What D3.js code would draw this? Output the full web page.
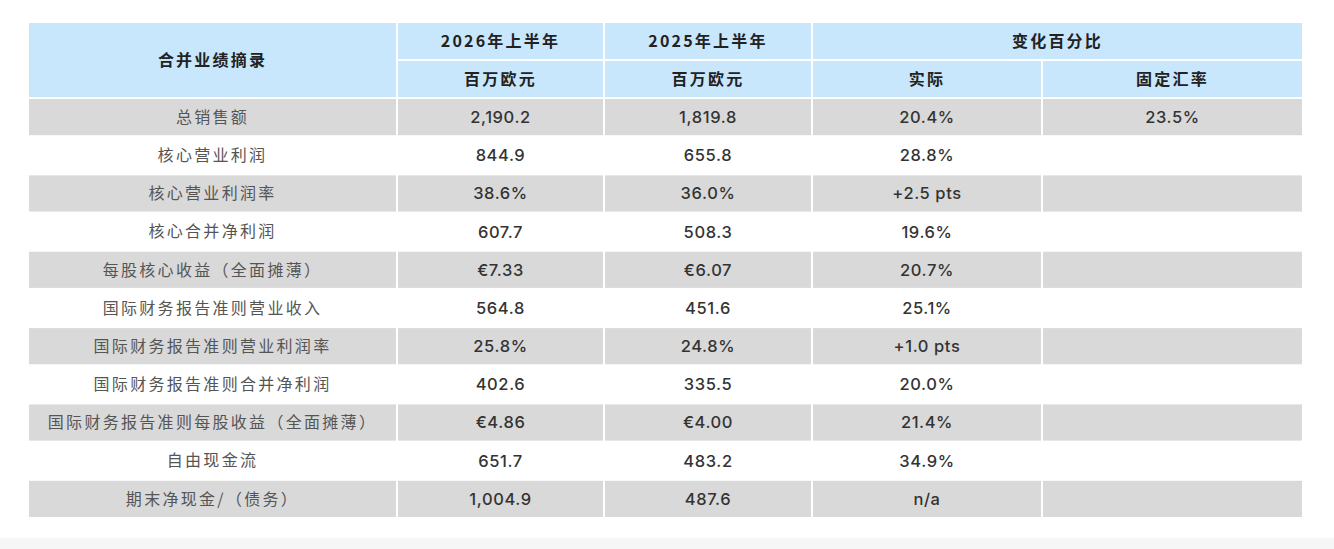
<!DOCTYPE html>
<html>
<head>
<meta charset="utf-8">
<script src="https://cdn.jsdelivr.net/npm/d3@7"></script>
<style>
  body { margin: 0; background: #fff; }
  svg { display: block; }
  text { font-family: "Noto Sans CJK SC", "Noto Sans", sans-serif; }
  .num { font-family: Inter, "Noto Sans CJK SC", sans-serif; }
</style>
</head>
<body>
<svg width="1334" height="549"></svg>
<script>
const svg = d3.select('svg');
const width = +svg.attr('width');
const height = +svg.attr('height');

// table data
const metrics = [
  '总销售额', '核心营业利润', '核心营业利润率', '核心合并净利润',
  '每股核心收益（全面摊薄）', '国际财务报告准则营业收入', '国际财务报告准则营业利润率',
  '国际财务报告准则合并净利润', '国际财务报告准则每股收益（全面摊薄）', '自由现金流', '期末净现金/（债务）'
];
const h1_2026 = ['2,190.2', '844.9', '38.6%', '607.7', '€7.33', '564.8', '25.8%', '402.6', '€4.86', '651.7', '1,004.9'];
const h1_2025 = ['1,819.8', '655.8', '36.0%', '508.3', '€6.07', '451.6', '24.8%', '335.5', '€4.00', '483.2', '487.6'];
const changeActual = ['20.4%', '28.8%', '+2.5 pts', '19.6%', '20.7%', '25.1%', '+1.0 pts', '20.0%', '21.4%', '34.9%', 'n/a'];
const changeConstFx = ['23.5%', '', '', '', '', '', '', '', '', '', ''];

const columns = ['metric', 'y2026', 'y2025', 'actual', 'constFx'];
const headerTop = ['2026年上半年', '2025年上半年', '变化百分比'];
const headerSub = ['百万欧元', '百万欧元', '实际', '固定汇率'];
const headerTitle = '合并业绩摘录';

const rows = metrics.map((m, i) => ({
  metric: m, y2026: h1_2026[i], y2025: h1_2025[i], actual: changeActual[i], constFx: changeConstFx[i]
}));

// layout
const left = 28, right = 1303;
const colEdges = [left, 397, 604, 812, 1042, right];
const headTop = 22, headMid = 60, headBottom = 98, tableBottom = 518;

const xStart = d3.scaleOrdinal().domain(columns).range(colEdges.slice(0, 5));
const xEnd = d3.scaleOrdinal().domain(columns).range(colEdges.slice(1));
const y = d3.scaleBand()
  .domain(d3.range(rows.length))
  .range([headBottom, tableBottom])
  .paddingInner(0);

const gap = 1;
const blue = '#c8e7fc';
const grey = '#d9d9d9';

// bottom page band
svg.append('rect')
  .attr('x', 0).attr('y', 538).attr('width', width).attr('height', height - 538)
  .attr('fill', '#f6f6f6');

// header cells
const headerCells = [
  { x0: xStart('metric'), x1: xEnd('metric'), y0: headTop, y1: headBottom, text: headerTitle },
  { x0: xStart('y2026'), x1: xEnd('y2026'), y0: headTop, y1: headMid, text: headerTop[0] },
  { x0: xStart('y2025'), x1: xEnd('y2025'), y0: headTop, y1: headMid, text: headerTop[1] },
  { x0: xStart('actual'), x1: xEnd('constFx'), y0: headTop, y1: headMid, text: headerTop[2] },
  { x0: xStart('y2026'), x1: xEnd('y2026'), y0: headMid, y1: headBottom, text: headerSub[0] },
  { x0: xStart('y2025'), x1: xEnd('y2025'), y0: headMid, y1: headBottom, text: headerSub[1] },
  { x0: xStart('actual'), x1: xEnd('actual'), y0: headMid, y1: headBottom, text: headerSub[2] },
  { x0: xStart('constFx'), x1: xEnd('constFx'), y0: headMid, y1: headBottom, text: headerSub[3] }
];

const head = svg.append('g');
head.selectAll('rect')
  .data(headerCells)
  .join('rect')
  .attr('x', d => d.x0 + gap)
  .attr('y', d => d.y0 + gap)
  .attr('width', d => d.x1 - d.x0 - 2 * gap)
  .attr('height', d => d.y1 - d.y0 - 2 * gap)
  .attr('fill', blue);

head.selectAll('text')
  .data(headerCells)
  .join('text')
  .attr('x', d => (d.x0 + d.x1) / 2)
  .attr('y', d => (d.y0 + d.y1) / 2)
  .attr('dy', '0.36em')
  .attr('text-anchor', 'middle')
  .attr('font-size', 16)
  .attr('letter-spacing', '2.2px')
  .attr('font-weight', 'bold')
  .attr('fill', '#222')
  .text(d => d.text);

// body rows
const body = svg.append('g');
const rowG = body.selectAll('g')
  .data(rows)
  .join('g')
  .attr('transform', (d, i) => `translate(0, ${y(i)})`);

const cells = rowG.selectAll('g')
  .data((d, i) => columns.map(c => ({ col: c, value: d[c], row: i })))
  .join('g');

cells.append('rect')
  .attr('x', d => xStart(d.col) + gap)
  .attr('y', gap)
  .attr('width', d => xEnd(d.col) - xStart(d.col) - 2 * gap)
  .attr('height', y.bandwidth() - 2 * gap)
  .attr('fill', d => d.row % 2 === 0 ? grey : '#fff');

cells.append('text')
  .attr('class', d => d.col === 'metric' ? 'label' : 'num')
  .attr('x', d => (xStart(d.col) + xEnd(d.col)) / 2)
  .attr('y', y.bandwidth() / 2)
  .attr('dy', '0.36em')
  .attr('text-anchor', 'middle')
  .attr('font-size', d => d.col === 'metric' ? 16 : 16.5)
  .attr('letter-spacing', d => d.col === 'metric' ? '2.3px' : '0.6px')
  .attr('font-weight', d => d.col === 'metric' ? 'normal' : 500)
  .attr('fill', d => d.col === 'metric' ? '#555' : '#333')
  .text(d => d.value);
</script>
</body>
</html>
